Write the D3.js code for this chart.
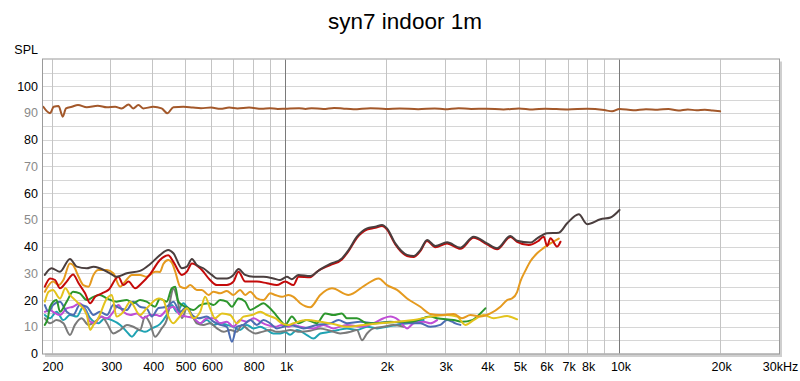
<!DOCTYPE html>
<html><head><meta charset="utf-8">
<script src="https://cdn.jsdelivr.net/npm/d3@7"></script>
<style>
html,body{margin:0;padding:0;background:#fff;}
svg{display:block;font-family:"Liberation Sans",Arial,sans-serif;}
</style></head>
<body><svg id="c" width="800" height="381"></svg>
<script>
// ---- data (frequency in Hz, SPL in dB) ----
const title = "syn7 indoor 1m";
const yTicks = [0,10,20,30,40,50,60,70,80,90,100];
const yGrid = [5,10,15,20,25,30,35,40,45,50,55,60,65,70,75,80,85,90,95,100,105];
const xGrid = [200,300,400,500,600,700,800,900,1000,2000,3000,4000,5000,6000,7000,8000,9000,10000,20000,30000];
const xDecades = [1000,10000];
const xTickVals = [200,300,400,500,600,800,1000,2000,3000,4000,5000,6000,7000,8000,10000,20000,30000];
const xTickText = ["200","300","400","500","600","800","1k","2k","3k","4k","5k","6k","7k","8k","10k","20k","30kHz"];

const brownF = [189,198,203,210,216,221,230,240,255,275,293,310,324,340,351,364,376,403,427,444,463,496,530,560,600,640,680,720,780,850,900,950,1000,1100,1150,1200,1300,1400,1500,1600,1800,2000,2200,2500,2800,3000,3300,3600,4000,4500,5000,5500,6000,7000,8000,9000,9500,10000,11000,12000,13000,14000,15000,16000,17000,18000,19000,20000];
const brownV = [92.3,89.9,92.3,92.6,88.6,91.7,92.3,93,92.1,92.7,92.1,92.3,91.7,93.2,91.7,93,91.7,92.3,91.7,89.9,92.1,92.3,92,91.8,92,91.6,92,91.7,92,91.6,91.8,91.5,91.6,91.8,91.5,91.8,91.5,91.9,91.6,91.4,91.8,91.5,91.7,91.4,91.7,91.4,91.8,91.5,91.6,91.3,91.7,91.3,91.6,91.3,91.6,91.1,90.6,91.5,91,91.4,91.2,91.5,90.9,91.3,91,91.2,90.9,90.6];

const darkF = [191,200,212,227,238,255,267,279,299,313,336,368,394,422,447,463,491,508,526,544,569,603,625,669,700,725,759,804,861,922,966,1012,1047,1096,1188,1273,1364,1478,1547,1639,1757,1860,1948,2016,2135,2315,2422,2536,2657,2813,3049,3342,3662,4017,4304,4717,4939,5414,5670,6074,6582,6973,7553,8004,8772,9399,10000];
const darkV = [29.4,31.9,30.6,35.4,32.5,31.9,32.5,31.9,30,28.7,30,30.9,33.4,36.8,38.7,37.5,31.9,32.5,35.4,33.1,31.9,29.4,28.1,28.1,29.4,31.6,29.4,28.7,28.7,28.1,27.5,28.7,27.8,29.4,29,31.5,33.5,35.6,38.7,43.7,46.8,47.4,48.1,46.8,41.2,36.9,36.5,38.7,42.5,40.2,41.6,39.6,43.7,41.2,39.4,44,42.2,41.5,43.1,45,45.2,48.7,52.1,48.4,50.2,50.9,53.7];

const redF = [191,198,205,212,222,232,241,252,261,270,283,296,317,328,340,356,372,394,422,447,463,491,508,526,557,596,625,669,700,725,759,823,882,944,1000,1059,1096,1188,1244,1364,1478,1547,1639,1757,1860,1948,2016,2135,2315,2422,2536,2657,2813,3049,3342,3662,4017,4304,4717,4939,5351,5700,5934,6074,6214,6510,6660];
const redV = [25,28.1,27.5,24.4,26.9,29.6,26.3,22.5,18.8,21.2,22.5,23.8,28.7,25.6,26.9,24.4,26.3,29.6,35,36.8,34.3,29.4,30.6,33.7,31.9,27.5,25.6,25.6,26.9,30.6,26.9,26.9,26.3,25.6,26.9,25.6,28.7,28.5,30.6,33.1,35.2,38.3,43.3,46.4,47,47.7,46.4,40.8,36.5,36.1,38.3,42.1,39.8,41.2,39.2,43.3,40.8,39,43.6,41.8,40.6,42,43.7,40.2,43.1,40,41.8];

const orangeF = [191,202,210,217,227,232,241,249,258,267,276,293,306,321,332,348,368,385,408,422,432,447,458,469,485,502,520,544,563,590,610,639,669,700,733,759,786,823,861,902,933,978,1023,1059,1109,1188,1273,1380,1547,1736,1903,2016,2160,2315,2536,2718,2911,3191,3381,3580,3835,4110,4403,4610,4772,4939,5053,5231,5414,5670,5934,6214,6582];
const orangeV = [23.1,26.9,25.6,27.5,33.7,33.1,28.7,25.6,25,29.4,31.2,31.2,30,25,26.9,29.4,29.4,28.7,30.6,30.5,33.5,35,34,30.6,25,24.4,25.6,23.8,23.8,21.9,23.1,22.5,23.4,21.9,23.8,21.9,23.1,20.6,20,22.5,21.9,21.2,21.9,21.2,18.8,17.3,21.9,24.4,21.9,25.6,28.1,25.6,23.8,20.6,17.5,14.8,14.4,14.8,13.2,14.4,13.8,15,17.5,20,20.6,23,27,31,34.5,37.5,39.5,41.2,43];

const yellowF = [191,196,202,212,220,227,238,255,261,267,276,293,303,313,328,344,368,385,418,432,447,463,479,508,532,557,576,596,617,647,685,717,750,795,842,882,933,978,1023,1059,1161,1273,1395,1530,1716,1925,2160,2422,2718,3049,3266,3459,3662,3923,4205,4610,4939];
const yellowV = [19.4,23.1,23.8,20.6,24.4,21.9,19.4,14.4,8.8,10.7,13.2,20.6,21.9,13.8,15.6,19.4,14.4,16.9,20.6,20,14,11.3,13.2,16.9,13.2,15.6,21.2,16.9,13.2,15,14.4,11.3,13.8,14.4,15.6,14.4,13.2,11.3,10.7,11.3,12.5,11.9,11,10,10.7,11.3,11.9,12.5,13.8,14.4,13.8,10.7,12.5,14.4,13.2,14,12.8];

const greenF = [191,195,198,207,212,222,232,243,255,267,279,293,313,336,351,368,385,408,422,442,458,469,479,502,532,557,590,610,639,669,693,725,759,786,823,861,891,922,966,1000,1047,1096,1161,1244,1318,1395,1478,1530,1639,1757,1950,2150,2400,2718,2846,3191,3381,3622,3835,3970];
const greenV = [10.7,13.2,17.5,20,15.6,19.4,23.1,22.5,20,21.2,21.9,20.6,19.4,20,18.8,20,19.4,17.5,20.5,19.4,24.4,25,19.4,17.5,16.3,18.1,18.8,18.1,20,19.4,17.5,20.6,19.4,16.3,17.5,18.8,17.5,15.6,12.5,10.7,13.8,11.3,12.5,11.3,15,14.4,15,13.2,13.2,11.3,11.5,11.8,12,13.8,13.2,12.5,11.9,12.5,15,16.9];

const blueF = [191,196,202,212,222,232,243,255,267,279,293,306,321,336,351,368,385,399,418,442,463,485,508,526,550,583,610,639,669,693,717,750,786,823,861,902,944,988,1035,1134,1244,1364,1444,1530,1677,1838,2063,2315,2536,2718,2911,3049,3156,3228,3342];
const blueV = [18.1,15.6,18.1,19.4,15.6,14.4,18.1,17.5,14.4,15.6,14.4,18.1,16.9,16.3,19.4,17.5,16.9,13.8,17,17.5,19.4,15.6,17.5,14.4,13.2,13.8,11.9,10.7,10,4.4,10,10.7,12.5,10.7,12.5,11.3,9.4,10,10.7,9.4,10.7,11.3,12.5,11.3,11.9,11.3,11.9,11.3,11.3,10,10.7,12.5,11.9,11.3,10.7];

const purpleF = [191,198,202,212,222,232,243,252,261,270,279,293,306,317,328,344,360,376,394,413,422,442,463,485,508,532,557,583,610,639,669,700,733,768,804,842,882,933,978,1023,1059,1109,1215,1302,1395,1530,1677,1838,1969,2063,2184,2315,2422,2595,2718,2846];
const purpleV = [15.6,16.3,15.6,14.4,16.9,17.5,18.8,16.3,11.9,11.3,13.8,13.2,15.6,18.1,15.6,14.4,15,13.2,14.4,14.4,14,16.3,17.5,14.4,13.8,13.2,11.3,13.2,13.2,11.3,11.9,10,12.5,11.9,13.2,11.9,10.7,10,10.7,10,10.7,10,9.4,10.7,9.4,10.7,10,11.3,13.2,13.8,12.5,9.4,11.3,11.9,11.3,12.5];

const grayF = [191,198,207,217,227,235,246,258,270,283,293,306,321,336,351,368,381,394,408,427,442,453,463,474,491,508,526,544,569,596,625,654,685,717,742,777,814,852,902,944,988,1035,1109,1188,1273,1364,1461,1565,1639,1697,1757,1838,1969,2110,2261];
const grayV = [13.2,11.3,12.5,11.3,6.9,10.7,13.2,10.7,11.9,13.8,11.3,7.5,8.8,10.7,10,8.8,13.8,11.3,6.3,9.4,12.5,20,24.4,21.2,13.2,16.9,14.4,11.3,10.7,11.3,9.4,8.1,8.8,8.1,10.7,8.8,7.5,8.1,8.8,8.1,8.3,8.8,8.1,8.5,9.4,8.5,7.5,8.1,8.8,5,7.5,9.4,10,10.7,10];

const tealF = [191,198,207,217,227,238,249,261,276,289,303,321,336,348,364,381,399,422,442,458,474,496,514,532,557,583,610,639,669,700,733,768,804,842,882,922,966,1000,1035,1084,1161,1215,1273,1364,1444,1530,1639,1757,1882,2016,2160,2315,2479,2595];
const tealV = [14.4,13.2,15.6,12.5,14.4,13.8,17.5,13.2,11.3,13.2,12.5,10.7,8.1,6.3,8.8,8.1,9.4,11,14.4,18.1,15.6,18.8,16.3,13.2,11.3,12.5,10.7,11.3,10.7,10,8.8,10.7,9.4,10,8.8,7.5,7.5,8,7,8.8,6.9,5.6,7.5,8.1,8.8,9.4,8.8,10,9.4,10,10.7,11.3,11.9,12.5];

// drawing order (bottom first) and colours
const seriesList = [
  {F: tealF,   V: tealV,   color: "#1fa3b3"},
  {F: grayF,   V: grayV,   color: "#7a7a7a"},
  {F: purpleF, V: purpleV, color: "#c04ed6"},
  {F: blueF,   V: blueV,   color: "#4c6db3"},
  {F: greenF,  V: greenV,  color: "#2c962c"},
  {F: yellowF, V: yellowV, color: "#e3c31c"},
  {F: orangeF, V: orangeV, color: "#e59a1f"},
  {F: redF,    V: redV,    color: "#c40a0a"},
  {F: darkF,   V: darkV,   color: "#4a3e3e"},
  {F: brownF,  V: brownV,  color: "#a3582a"}
];

// ---- layout ----
const L = 43, R = 779, T = 59.5, B = 353.5;
const svg = d3.select("#c");
const x = d3.scaleLog().domain([188.6, 30000]).range([L, R]);
const y = d3.scaleLinear().domain([0, 110]).range([B, T]);

// title
svg.append("text").attr("x", 405).attr("y", 29).attr("text-anchor", "middle")
  .attr("font-size", 22.5).attr("fill", "#000").text(title);
svg.append("text").attr("x", 38).attr("y", 54).attr("text-anchor", "end")
  .attr("font-size", 12.5).attr("fill", "#000").text("SPL");

// frame shadow
svg.append("rect").attr("x", L + 2).attr("y", T + 2).attr("width", R - L + 1).attr("height", B - T + 1.5)
  .attr("fill", "#cfcfcf");
svg.append("rect").attr("x", L).attr("y", T).attr("width", R - L).attr("height", B - T)
  .attr("fill", "#fff");

// horizontal grid
svg.append("g").selectAll("line").data(yGrid).join("line")
  .attr("x1", L).attr("x2", R)
  .attr("y1", d => Math.round(y(d)) + 0.5).attr("y2", d => Math.round(y(d)) + 0.5)
  .attr("stroke", "#d6d6d6").attr("stroke-width", 1);
// vertical grid
svg.append("g").selectAll("line").data(xGrid).join("line")
  .attr("x1", d => Math.round(x(d)) + 0.5).attr("x2", d => Math.round(x(d)) + 0.5)
  .attr("y1", T).attr("y2", B)
  .attr("stroke", d => xDecades.includes(d) ? "#7a7a7a" : "#c4c4c4").attr("stroke-width", 1);

// curves
svg.append("clipPath").attr("id", "clip").append("rect")
  .attr("x", L).attr("y", T).attr("width", R - L).attr("height", B - T);
const line = d3.line().x(d => x(d[0])).y(d => y(d[1])).curve(d3.curveMonotoneX);
const gLines = svg.append("g").attr("clip-path", "url(#clip)");
seriesList.forEach(s => {
  const pts = s.F.slice(0, Math.min(s.F.length, s.V.length)).map((f, i) => [f, s.V[i]]);
  gLines.append("path").datum(pts).attr("d", line)
    .attr("fill", "none").attr("stroke", s.color).attr("stroke-width", 2)
    .attr("stroke-linejoin", "round").attr("stroke-linecap", "round");
});

// frame
svg.append("rect").attr("x", L - 0.5).attr("y", T - 0.5).attr("width", R - L + 1).attr("height", B - T + 1)
  .attr("fill", "none").attr("stroke", "#9a9a9a").attr("stroke-width", 1);

// y axis labels
const yAxis = d3.axisLeft(y).tickValues(yTicks).tickSize(0).tickPadding(0).tickFormat(d3.format("d"));
const gy = svg.append("g").attr("transform", "translate(38,0)").call(yAxis);
gy.select(".domain").remove();
gy.selectAll("text").attr("font-size", 12.5).attr("font-family", "Liberation Sans, Arial, sans-serif")
  .attr("fill", d => d % 20 === 0 ? "#000" : "#8a8a8a");

// x axis labels
const xAxis = d3.axisBottom(x).tickValues(xTickVals).tickSize(0).tickPadding(0)
  .tickFormat((d, i) => xTickText[i]);
const gx = svg.append("g").attr("transform", "translate(1,362)").call(xAxis);
gx.select(".domain").remove();
gx.selectAll("text").attr("font-size", 12.5).attr("font-family", "Liberation Sans, Arial, sans-serif")
  .attr("fill", "#000");
</script></body></html>
